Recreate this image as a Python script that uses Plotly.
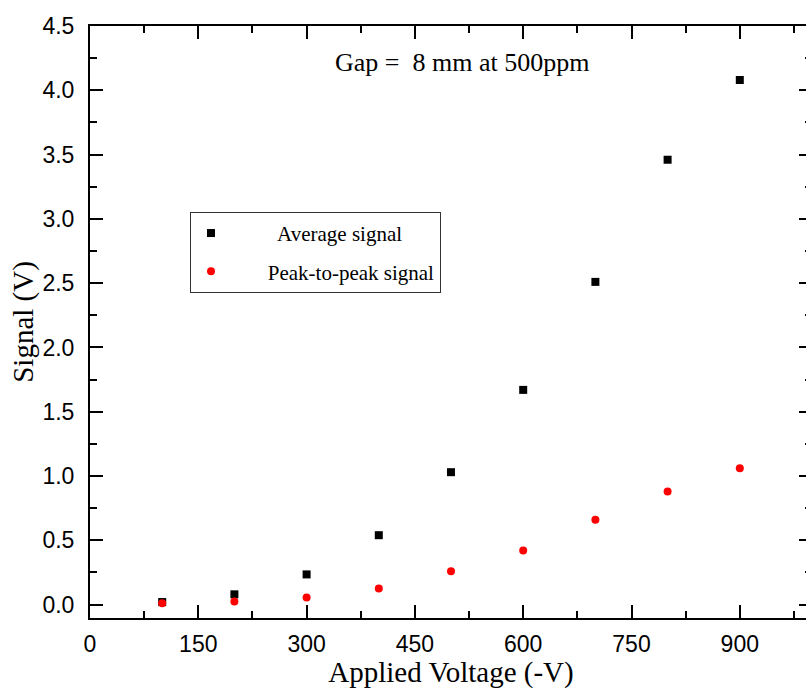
import plotly.graph_objects as go

voltage = [100, 200, 300, 400, 500, 600, 700, 800, 900]
average_signal = [0.02, 0.08, 0.235, 0.54, 1.03, 1.67, 2.51, 3.46, 4.08]
peak_to_peak_signal = [0.01, 0.025, 0.055, 0.125, 0.26, 0.42, 0.66, 0.88, 1.06]

x_ticks = [0, 150, 300, 450, 600, 750, 900]
y_ticks = [0.0, 0.5, 1.0, 1.5, 2.0, 2.5, 3.0, 3.5, 4.0, 4.5]

fig = go.Figure()
fig.add_trace(go.Scatter(
    x=voltage, y=average_signal, mode="markers", name="         Average signal",
    marker=dict(symbol="square", size=8, color="black"), legendgroup="a",
))
fig.add_trace(go.Scatter(
    x=voltage, y=peak_to_peak_signal, mode="markers", name="       Peak-to-peak signal",
    marker=dict(symbol="circle", size=8, color="red"), legendgroup="b",
))

axis_common = dict(
    showline=True, linecolor="black", linewidth=2, mirror="allticks",
    ticks="inside", ticklen=13, tickwidth=2, tickcolor="black",
    showgrid=False, zeroline=False, automargin=False,
    tickfont=dict(family="Liberation Sans, Arial", size=23, color="black"),
)

fig.update_xaxes(
    range=[0, 1000], tickvals=x_ticks, ticktext=[str(v) for v in x_ticks],
    minor=dict(ticks="inside", ticklen=7, tickwidth=2, tickcolor="black", dtick=75, tick0=0),
    title=dict(text="Applied Voltage (-V)", font=dict(family="Liberation Serif, Times New Roman", size=29, color="black"), standoff=0),
    ticklabelstandoff=4,
    **axis_common,
)
fig.update_yaxes(
    range=[-0.104, 4.5], tickvals=y_ticks, ticktext=[f"{v:.1f}" for v in y_ticks],
    minor=dict(ticks="inside", ticklen=7, tickwidth=2, tickcolor="black", dtick=0.25, tick0=0),
    title=dict(text="Signal (V)", font=dict(family="Liberation Serif, Times New Roman", size=29, color="black"), standoff=0),
    ticklabelstandoff=9,
    **axis_common,
)

fig.add_annotation(
    text="Gap =  8 mm at 500ppm", xref="x", yref="paper",
    x=515, y=0.939, showarrow=False, xanchor="center", yanchor="middle",
    font=dict(family="Liberation Serif, Times New Roman", size=26, color="black"),
)

fig.update_layout(
    width=812, height=689,
    margin=dict(l=90, r=0, t=26, b=71),
    plot_bgcolor="white", paper_bgcolor="white",
    showlegend=True,
    legend=dict(
        x=0.1385, y=0.686, xanchor="left", yanchor="top",
        bordercolor="#333333", borderwidth=1, bgcolor="white",
        font=dict(family="Liberation Serif, Times New Roman", size=21, color="black"),
        tracegroupgap=8,
    ),
)

fig.write_html(
    "out.html",
    config={"displayModeBar": False},
    post_script="document.documentElement.style.overflow='hidden';"
                "document.body.style.margin='0';document.body.style.overflow='hidden';",
)
